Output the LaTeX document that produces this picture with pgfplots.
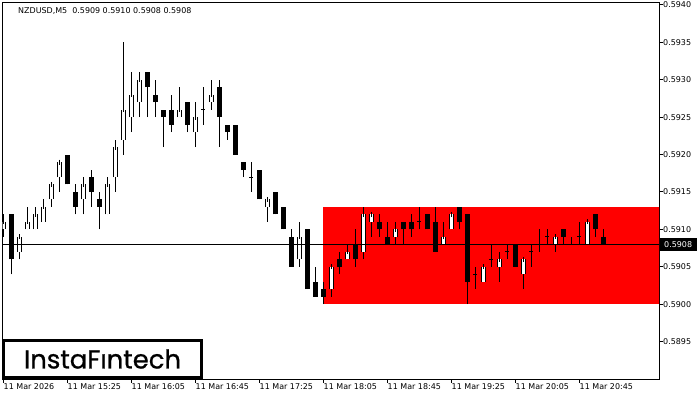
\documentclass[border=0pt]{standalone}
\usepackage{fontspec}
\setmainfont{DejaVu Sans}
\newfontfamily\logofont{Poppins}[FakeBold=0.8]
\usepackage{pgfplots}
\usepackage{pgfplotstable}
\pgfplotsset{compat=1.18}

% M5 candles, x = bar index (8 px per bar), o h l c
\pgfplotstableread{
i  o      h      l      c
0  0.5910 0.5912 0.5909 0.5911
2  0.5907 0.5909 0.5906 0.5909
3  0.5910 0.5913 0.5910 0.5911
4  0.5910 0.5913 0.5910 0.5912
5  0.5911 0.5914 0.5911 0.5913
6  0.5914 0.5916 0.5913 0.5916
7  0.5917 0.5919 0.5915 0.5919
10 0.5914 0.5917 0.5912 0.5916
13 0.5912 0.5917 0.5912 0.5916
14 0.5917 0.5922 0.5915 0.5921
15 0.5922 0.5935 0.5920 0.5926
16 0.5925 0.5931 0.5923 0.5928
17 0.5927 0.5931 0.5925 0.5930
22 0.5925 0.5929 0.5925 0.5926
24 0.5923 0.5927 0.5921 0.5925
26 0.5927 0.5930 0.5926 0.5928
33 0.5913 0.5914 0.5911 0.5914
37 0.5906 0.5911 0.5905 0.5909
41 0.5902 0.5905 0.5901 0.5905
43 0.5906 0.5908 0.5906 0.5907
45 0.5907 0.5913 0.5906 0.5912
46 0.5911 0.5912 0.5909 0.5912
49 0.5909 0.5911 0.5908 0.5910
55 0.5908 0.5911 0.5908 0.5909
56 0.5910 0.5912 0.5910 0.5912
60 0.5903 0.5905 0.5903 0.5905
62 0.5905 0.5907 0.5903 0.5906
65 0.5904 0.5906 0.5902 0.5906
69 0.5908 0.5909 0.5907 0.5909
73 0.5908 0.5911 0.5908 0.5911
}\bull

\pgfplotstableread{
i  o      h      l      c
1  0.5912 0.5912 0.5904 0.5906
8  0.5920 0.5920 0.5916 0.5916
9  0.5915 0.5916 0.5912 0.5913
11 0.5917 0.5918 0.5913 0.5915
12 0.5914 0.5915 0.5910 0.5913
18 0.5931 0.5931 0.5925 0.5929
19 0.5928 0.5930 0.5925 0.5927
20 0.5926 0.5926 0.5921 0.5925
21 0.5926 0.5928 0.5923 0.5924
23 0.5927 0.5927 0.5923 0.5924
27 0.5929 0.5930 0.5921 0.5925
28 0.5924 0.5924 0.5922 0.5923
29 0.5924 0.5924 0.5920 0.5920
30 0.5919 0.5919 0.5917 0.5918
32 0.5918 0.5918 0.5914 0.5914
34 0.5915 0.5915 0.5912 0.5912
35 0.5913 0.5913 0.5910 0.5910
36 0.5909 0.5910 0.5905 0.5905
38 0.5910 0.5910 0.5902 0.5902
39 0.5903 0.5905 0.5901 0.5901
40 0.5902 0.5903 0.5900 0.5901
42 0.5906 0.5907 0.5904 0.5905
44 0.5908 0.5910 0.5905 0.5906
47 0.5911 0.5912 0.5909 0.5910
48 0.5909 0.5911 0.5908 0.5908
50 0.5911 0.5911 0.5908 0.5910
51 0.5911 0.5912 0.5909 0.5910
53 0.5912 0.5912 0.5910 0.5910
54 0.5911 0.5913 0.5907 0.5907
57 0.5913 0.5913 0.5910 0.5911
58 0.5912 0.5912 0.5900 0.5903
64 0.5908 0.5908 0.5905 0.5905
70 0.5910 0.5910 0.5908 0.5909
74 0.5912 0.5912 0.5909 0.5910
75 0.5909 0.5910 0.5908 0.5908
}\bear

\pgfplotstableread{
i  o      h      l      c
25 0.5926 0.5929 0.5924 0.5926
31 0.5917 0.5919 0.5915 0.5917
52 0.5911 0.5913 0.5910 0.5911
59 0.5904 0.5905 0.5902 0.5904
61 0.5906 0.5908 0.5905 0.5906
63 0.5907 0.5908 0.5906 0.5907
66 0.5907 0.5908 0.5905 0.5907
67 0.5908 0.5910 0.5907 0.5908
68 0.5909 0.5910 0.5908 0.5909
71 0.5908 0.5909 0.5908 0.5908
72 0.5909 0.5911 0.5908 0.5909
}\doji

\pgfplotsset{
  wick/.style={forget plot, draw=none, mark=none,
    error bars/.cd, y dir=plus, y explicit, error mark=none,
    error bar style={draw=black, line width=1bp}},
}

\begin{document}
\begin{tikzpicture}
\useasboundingbox (0,0) rectangle (700bp,400bp);
\begin{axis}[
    at={(2.7bp,21bp)}, anchor=south west,
    scale only axis, width=656.3bp, height=376.3bp,
    xmin=-0.04, xmax=82, ymin=0.58900, ymax=0.59403,
    axis line style={black, line width=1bp},
    tick style={black, line width=1bp},
    major tick length=4bp,
    tick align=outside,
    xtick pos=left, ytick pos=right, yticklabel pos=right,
    xtick={0,8,16,24,32,40,48,56,64,72},
    xticklabels={11 Mar 2026, 11 Mar 15:25, 11 Mar 16:05, 11 Mar 16:45, 11 Mar 17:25,
                 11 Mar 18:05, 11 Mar 18:45, 11 Mar 19:25, 11 Mar 20:05, 11 Mar 20:45},
    ytick={0.5895,0.5900,0.5905,0.5910,0.5915,0.5920,0.5925,0.5930,0.5935,0.5940},
    yticklabels={0.5895,0.5900,0.5905,0.5910,0.5915,0.5920,0.5925,0.5930,0.5935,0.5940},
    scaled y ticks=false,
    tick label style={font=\fontsize{8}{9}\selectfont},
    x tick label style={anchor=north west, inner sep=0pt, xshift=0.5bp, yshift=-0.5bp},
    y tick label style={anchor=west, inner sep=0pt},
    extra y ticks={0.5908},
    extra y tick labels={0.5908},
    extra y tick style={major tick length=0pt,
        y tick label style={fill=black, text=white, inner xsep=5bp, inner ysep=3.5bp}},
]
% pattern rectangle
\addplot[fill=red, draw=none, forget plot] coordinates {(40,0.5900) (83,0.5900) (83,0.5913) (40,0.5913)} -- cycle;

% wicks
\addplot[wick] table[x=i, y=l, y error plus expr=\thisrow{h}-\thisrow{l}] {\bull};
\addplot[wick] table[x=i, y=l, y error plus expr=\thisrow{h}-\thisrow{l}] {\bear};
\addplot[wick] table[x=i, y=l, y error plus expr=\thisrow{h}-\thisrow{l}] {\doji};

% bearish bodies
\addplot[forget plot, draw=none, mark=none,
    error bars/.cd, y dir=plus, y explicit, error mark=none,
    error bar style={draw=black, line width=5bp}]
    table[x=i, y=c, y error plus expr=\thisrow{o}-\thisrow{c}] {\bear};

% bullish bodies: black outline, white inside
\addplot[forget plot, draw=none, mark=none,
    error bars/.cd, y dir=plus, y explicit, error mark=none,
    error bar style={draw=black, line width=5bp}]
    table[x=i, y=o, y error plus expr=\thisrow{c}-\thisrow{o}] {\bull};
\addplot[forget plot, draw=none, mark=none,
    error bars/.cd, y dir=plus, y explicit, error mark=-,
    error mark options={draw=black, line width=1bp, mark size=2.5bp, solid},
    error bar style={draw=white, line width=3bp}]
    table[x=i, y=o, y error plus expr=\thisrow{c}-\thisrow{o}] {\bull};

% doji ticks
\addplot[forget plot, draw=none, mark=none,
    error bars/.cd, x dir=both, x fixed=0.3, error mark=none,
    error bar style={draw=black, line width=1bp}]
    table[x=i, y=c] {\doji};

% current price line
\addplot[black, line width=1bp, forget plot] coordinates {(-1,0.5908) (83,0.5908)};
\end{axis}

\node[anchor=west, inner sep=0pt, font=\fontsize{8}{9}\selectfont] at (18bp,389bp)
  {NZDUSD,M5\ \ 0.5909 0.5910 0.5908 0.5908};

\node[draw=black, line width=3bp, fill=white, outer sep=0pt, inner sep=0pt,
      minimum width=198bp, minimum height=37bp, anchor=south west,
      font=\logofont\fontsize{26}{28}\selectfont] at (3.5bp,22.5bp) {InstaFıntech};
\end{tikzpicture}
\end{document}
